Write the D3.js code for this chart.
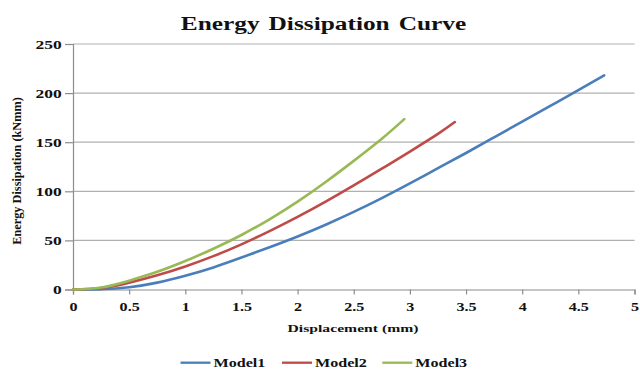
<!DOCTYPE html>
<html>
<head>
<meta charset="utf-8">
<script src="https://cdn.jsdelivr.net/npm/d3@7"></script>
<style>
  html, body { margin: 0; padding: 0; background: #fff; }
  svg { display: block; }
  text { font-family: "Liberation Serif", "Times New Roman", serif; font-weight: bold; fill: #111; }
</style>
</head>
<body>
<svg id="chart" width="640" height="374"></svg>
<script>
// ---- data ----
const seriesNames = ["Model1", "Model2", "Model3"];
const seriesColors = ["#4a7ebb", "#be4b48", "#98b954"];

const model1X = [0, 0.25, 0.5, 0.75, 1, 1.25, 1.5, 1.75, 2, 2.25, 2.5, 2.75, 3, 3.25, 3.5, 3.75, 4, 4.25, 4.5, 4.73];
const model1Y = [0, 0.3, 2.3, 7, 14, 22.5, 32.5, 43, 54, 66, 79, 93, 108, 123.5, 139, 155, 171, 187, 203, 218];

const model2X = [0, 0.25, 0.5, 0.75, 1, 1.25, 1.5, 1.75, 2, 2.25, 2.5, 2.75, 3, 3.25, 3.4];
const model2Y = [0, 1.5, 7, 14.5, 23.5, 34, 46, 59.5, 74, 89.5, 106, 123, 140.5, 158.5, 170.5];

const model3X = [0, 0.25, 0.5, 0.75, 1, 1.25, 1.5, 1.75, 2, 2.25, 2.5, 2.75, 2.95];
const model3Y = [0, 2, 9, 18, 29, 41.5, 55.5, 71.5, 89.5, 109.5, 131, 153.5, 173.5];

const xTicks = [0, 0.5, 1, 1.5, 2, 2.5, 3, 3.5, 4, 4.5, 5];
const yTicks = [0, 50, 100, 150, 200, 250];

const titleText = "Energy Dissipation Curve";
const xTitle = "Displacement (mm)";
const yTitle = "Energy Dissipation (kNmm)";

// ---- chart ----
const svg = d3.select("#chart");
const x = d3.scaleLinear().domain([0, 5]).range([73, 634.5]);
const y = d3.scaleLinear().domain([0, 250]).range([289.5, 44]);
const SX = 1.4;

// gridlines
svg.append("g")
  .selectAll("line")
  .data(yTicks.filter(d => d > 0))
  .join("line")
  .attr("x1", x(0)).attr("x2", x(5))
  .attr("y1", d => y(d)).attr("y2", d => y(d))
  .attr("stroke", "#b0b0b0").attr("stroke-width", 1.2);

// y axis
const yAxis = svg.append("g")
  .attr("transform", `translate(${x(0)},0)`)
  .call(d3.axisLeft(y).tickValues(yTicks).tickSize(8).tickPadding(3).tickFormat(d3.format("d")));
yAxis.select(".domain").attr("stroke", "#8c8c8c").attr("stroke-width", 1.2);
yAxis.selectAll(".tick line").attr("stroke", "#8c8c8c").attr("stroke-width", 1.2);
yAxis.selectAll(".tick text")
  .attr("x", -11.3 / SX)
  .attr("transform", `scale(${SX},1)`)
  .style("font-size", "12.5px")
  .style("font-family", '"Liberation Serif", serif')
  .style("font-weight", "bold")
  .attr("fill", "#111");

// x axis
const xAxis = svg.append("g")
  .attr("transform", `translate(0,${y(0)})`)
  .call(d3.axisBottom(x).tickValues(xTicks).tickSize(5).tickPadding(8.7).tickFormat(d3.format("")));
xAxis.select(".domain").attr("stroke", "#8c8c8c").attr("stroke-width", 1.2);
xAxis.selectAll(".tick line").attr("stroke", "#8c8c8c").attr("stroke-width", 1.2);
xAxis.selectAll(".tick text")
  .attr("transform", `scale(${SX},1)`)
  .style("font-size", "11.5px")
  .style("font-family", '"Liberation Serif", serif')
  .style("font-weight", "bold")
  .attr("fill", "#111");

// lines
const seriesData = [
  model1X.map((d, i) => [d, model1Y[i]]),
  model2X.map((d, i) => [d, model2Y[i]]),
  model3X.map((d, i) => [d, model3Y[i]])
];
const line = d3.line().x(d => x(d[0])).y(d => y(d[1])).curve(d3.curveNatural);
svg.append("g")
  .selectAll("path")
  .data(seriesData)
  .join("path")
  .attr("d", line)
  .attr("fill", "none")
  .attr("stroke", (d, i) => seriesColors[i])
  .attr("stroke-width", 2.6)
  .attr("stroke-linecap", "round");

// title
svg.append("text")
  .attr("transform", `translate(323.5,29.5) scale(1.3,1)`)
  .attr("text-anchor", "middle")
  .style("font-size", "19.5px")
  .style("word-spacing", "2px")
  .text(titleText);

// x title
svg.append("text")
  .attr("transform", `translate(353,332.3) scale(${SX},1)`)
  .attr("text-anchor", "middle")
  .style("font-size", "11.2px")
  .text(xTitle);

// y title
svg.append("text")
  .attr("transform", `translate(20.5,171) rotate(-90)`)
  .attr("text-anchor", "middle")
  .style("font-size", "12.3px")
  .text(yTitle);

// legend
const legendStarts = [180.5, 282, 382.3];
const lg = svg.append("g")
  .selectAll("g")
  .data(seriesNames)
  .join("g")
  .attr("transform", (d, i) => `translate(${legendStarts[i]},362.7)`);
lg.append("line")
  .attr("x1", 0).attr("x2", 30).attr("y1", 0).attr("y2", 0)
  .attr("stroke", (d, i) => seriesColors[i])
  .attr("stroke-width", 2.3);
lg.append("text")
  .attr("transform", `translate(33,3.8) scale(${SX},1)`)
  .style("font-size", "11.5px")
  .text(d => d);
</script>
</body>
</html>
